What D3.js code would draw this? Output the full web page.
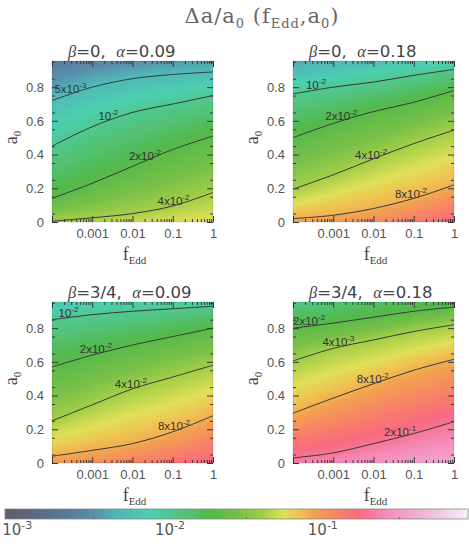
<!DOCTYPE html>
<html>
<head>
<meta charset="utf-8">
<script src="https://cdn.jsdelivr.net/npm/d3@7"></script>
<style>
  body { margin: 0; background: #fff; }
  svg { display: block; }
</style>
</head>
<body>
<svg width="469" height="545"></svg>
<script>
const F_COLS = [-4, -3, -2, -1, 0];

// beta=0, alpha=0.09
const p1Levels = [5e-3, 1e-2, 2e-2, 4e-2];
const p1Lines = [
  [0.72, 0.80, 0.85, 0.875, 0.89],
  [0.45, 0.565, 0.65, 0.70, 0.75],
  [0.14, 0.23, 0.33, 0.43, 0.51],
  [0.005, 0.025, 0.05, 0.095, 0.175]
];
const p1Top = [0.0022, 0.0026, 0.003, 0.0034, 0.0038];
const p1Bottom = [0.041, 0.045, 0.05, 0.055, 0.058];
const p1LabelAt = [-3.54, -2.60, -1.69, -0.98];
const p1Labels = [['5x10', '-3'], ['10', '-2'], ['2x10', '-2'], ['4x10', '-2']];

// beta=0, alpha=0.18
const p2Levels = [1e-2, 2e-2, 4e-2, 8e-2];
const p2Lines = [
  [0.76, 0.80, 0.83, 0.87, 0.905],
  [0.50, 0.585, 0.655, 0.71, 0.78],
  [0.195, 0.28, 0.375, 0.465, 0.545],
  [0.02, 0.04, 0.08, 0.14, 0.22]
];
const p2Top = [0.0038, 0.0045, 0.0053, 0.0062, 0.007];
const p2Bottom = [0.085, 0.095, 0.11, 0.14, 0.18];
const p2LabelAt = [-3.43, -2.80, -2.06, -1.07];
const p2Labels = [['10', '-2'], ['2x10', '-2'], ['4x10', '-2'], ['8x10', '-2']];

// beta=3/4, alpha=0.09
const p3Levels = [1e-2, 2e-2, 4e-2, 8e-2];
const p3Lines = [
  [0.85, 0.88, 0.90, 0.915, 0.93],
  [0.57, 0.64, 0.70, 0.75, 0.80],
  [0.25, 0.345, 0.44, 0.51, 0.58],
  [0.04, 0.075, 0.115, 0.185, 0.28]
];
const p3Top = [0.0058, 0.0066, 0.0074, 0.0082, 0.0088];
const p3Bottom = [0.095, 0.11, 0.13, 0.155, 0.18];
const p3LabelAt = [-3.59, -2.91, -2.04, -0.97];
const p3Labels = [['10', '-2'], ['2x10', '-2'], ['4x10', '-2'], ['8x10', '-2']];

// beta=3/4, alpha=0.18
const p4Levels = [2e-2, 4e-2, 8e-2, 2e-1];
const p4Lines = [
  [0.80, 0.83, 0.865, 0.90, 0.925],
  [0.605, 0.68, 0.73, 0.78, 0.82],
  [0.295, 0.385, 0.47, 0.55, 0.615],
  [0.03, 0.06, 0.115, 0.175, 0.245]
];
const p4Top = [0.011, 0.012, 0.014, 0.016, 0.018];
const p4Bottom = [0.23, 0.26, 0.30, 0.34, 0.38];
const p4LabelAt = [-3.6, -2.87, -2.02, -1.34];
const p4Labels = [['2x10', '-2'], ['4x10', '-3'], ['8x10', '-2'], ['2x10', '-1']];

const betas = ['0', '0', '3/4', '3/4'];
const alphas = ['0.09', '0.18', '0.09', '0.18'];

const xMajor = [1e-4, 1e-3, 1e-2, 1e-1, 1];
const yMajor = [0, 0.2, 0.4, 0.6, 0.8];
const cbTicks = [1e-3, 1e-2, 1e-1];

// colour map (log10 value -> colour)
const cmapLog = [-3.08, -2.78, -2.52, -2.33, -2.13, -1.90, -1.74, -1.54, -1.38, -1.25, -1.15, -1.05, -0.89, -0.76, -0.59, -0.43, -0.24, -0.05];
const cmapColors = ['#5c5f66', '#5a6f8e', '#5a8aaa', '#50b8b8', '#4ccfb0', '#52c278', '#52b94a', '#78c048', '#a8d048', '#e0e058',
  '#f0c050', '#f2a050', '#f88068', '#f86a80', '#f58ab8', '#f0a8d0', '#f0c8e0', '#f8f2f8'];

const panels = [
  {x0: 52, y0: 61, levels: p1Levels, lines: p1Lines, top: p1Top, bottom: p1Bottom, labelAt: p1LabelAt, labels: p1Labels},
  {x0: 293, y0: 61, levels: p2Levels, lines: p2Lines, top: p2Top, bottom: p2Bottom, labelAt: p2LabelAt, labels: p2Labels},
  {x0: 52, y0: 302, levels: p3Levels, lines: p3Lines, top: p3Top, bottom: p3Bottom, labelAt: p3LabelAt, labels: p3Labels},
  {x0: 293, y0: 302, levels: p4Levels, lines: p4Lines, top: p4Top, bottom: p4Bottom, labelAt: p4LabelAt, labels: p4Labels}
];

const PW = 161, PH = 161, A_MAX = 0.955;
const SANS = "'Liberation Sans', Arial, sans-serif";
const SERIF = "'Liberation Serif', 'DejaVu Serif', serif";

const svg = d3.select('svg');
const cmap = d3.scaleLinear().domain(cmapLog).range(cmapColors).clamp(true);

const x = d3.scaleLog().domain([1e-4, 1]).range([0, PW]);
const y = d3.scaleLinear().domain([0, A_MAX]).range([PH, 0]);

const xMinor = [];
[-4, -3, -2, -1].forEach(e => d3.range(2, 10).forEach(m => xMinor.push(m * Math.pow(10, e))));
const yMinor = d3.range(0.05, 0.951, 0.1);

// main title
const title = svg.append('text')
  .attr('x', 262).attr('y', 23)
  .attr('text-anchor', 'middle')
  .attr('font-family', "'DejaVu Serif', serif").attr('font-size', 21)
  .attr('letter-spacing', 1).attr('fill', '#666');
title.append('tspan').text('\u0394a/a');
title.append('tspan').attr('font-size', 13).attr('dy', 5).text('0');
title.append('tspan').attr('dy', -5).text('\u00A0(f');
title.append('tspan').attr('font-size', 13).attr('dy', 5).text('Edd');
title.append('tspan').attr('dy', -5).text(',a');
title.append('tspan').attr('font-size', 13).attr('dy', 5).text('0');
title.append('tspan').attr('dy', -5).text(')');

const defs = svg.append('defs');

function drawField(g, p) {
  const canvas = document.createElement('canvas');
  canvas.width = PW; canvas.height = PH;
  const ctx = canvas.getContext('2d');
  const img = ctx.createImageData(PW, PH);
  const lineAt = p.lines.map(l => d3.scaleLinear().domain(F_COLS).range(l));
  const topAt = d3.scaleLinear().domain(F_COLS).range(p.top.map(Math.log10));
  const botAt = d3.scaleLinear().domain(F_COLS).range(p.bottom.map(Math.log10));
  const levLog = p.levels.map(Math.log10);
  for (let i = 0; i < PW; i++) {
    const lf = Math.log10(x.invert(i + 0.5));
    const pos = [0].concat(lineAt.map(s => s(lf)).reverse(), [A_MAX]);
    const val = [botAt(lf)].concat(levLog.slice().reverse(), [topAt(lf)]);
    const prof = d3.scaleLinear().domain(pos).range(val);
    for (let j = 0; j < PH; j++) {
      const c = d3.rgb(cmap(prof(y.invert(j + 0.5))));
      const k = (j * PW + i) * 4;
      img.data[k] = c.r; img.data[k + 1] = c.g; img.data[k + 2] = c.b; img.data[k + 3] = 255;
    }
  }
  ctx.putImageData(img, 0, 0);
  g.append('image').attr('href', canvas.toDataURL()).attr('width', PW).attr('height', PH);
}

function styleAxis(sel) {
  sel.select('.domain').remove();
  sel.selectAll('line').attr('stroke', '#3a3a3a').attr('stroke-width', 1);
  sel.selectAll('text').attr('font-family', SANS).attr('font-size', 13).attr('fill', '#555');
}

panels.forEach((p, idx) => {
  const g = svg.append('g').attr('transform', `translate(${p.x0},${p.y0})`);
  const clipId = 'clip' + idx;
  defs.append('clipPath').attr('id', clipId)
    .append('rect').attr('width', PW).attr('height', PH);

  drawField(g, p);

  const inner = g.append('g').attr('clip-path', `url(#${clipId})`);
  const line = d3.line()
    .x((d, i) => x(Math.pow(10, F_COLS[i])))
    .y(d => y(d))
    .curve(d3.curveCatmullRom);
  inner.selectAll('path.contour')
    .data(p.lines)
    .join('path')
    .attr('class', 'contour')
    .attr('d', line)
    .attr('fill', 'none')
    .attr('stroke', '#383838')
    .attr('stroke-width', 1);

  // contour labels
  p.labels.forEach((lab, k) => {
    const a = d3.scaleLinear().domain(F_COLS).range(p.lines[k])(p.labelAt[k]);
    const t = inner.append('text')
      .attr('x', x(Math.pow(10, p.labelAt[k])))
      .attr('y', y(a) - 1)
      .attr('text-anchor', 'middle')
      .attr('font-family', SANS).attr('font-size', 11.5).attr('fill', '#333');
    t.append('tspan').text(lab[0]);
    t.append('tspan').attr('font-size', 8).attr('dy', -5).text(lab[1]);
  });

  // ticks on all four sides, pointing inward
  g.append('g').attr('transform', `translate(0,${PH})`)
    .call(d3.axisBottom(x).tickValues(xMajor).tickSize(-6).tickPadding(7)
      .tickFormat(d => d < 1e-3 ? '' : d3.format('~g')(d)))
    .call(styleAxis);
  g.append('g').attr('transform', `translate(0,${PH})`)
    .call(d3.axisBottom(x).tickValues(xMinor).tickSize(-3).tickFormat(''))
    .call(styleAxis);
  g.append('g')
    .call(d3.axisTop(x).tickValues(xMajor).tickSize(-6).tickFormat(''))
    .call(styleAxis);
  g.append('g')
    .call(d3.axisTop(x).tickValues(xMinor).tickSize(-3).tickFormat(''))
    .call(styleAxis);
  g.append('g')
    .call(d3.axisLeft(y).tickValues(yMajor).tickSize(-6).tickPadding(8)
      .tickFormat(d => d === 0 ? '0' : d3.format('.1f')(d)))
    .call(styleAxis);
  g.append('g')
    .call(d3.axisLeft(y).tickValues(yMinor).tickSize(-3).tickFormat(''))
    .call(styleAxis);
  g.append('g').attr('transform', `translate(${PW},0)`)
    .call(d3.axisRight(y).tickValues(yMajor).tickSize(-6).tickFormat(''))
    .call(styleAxis);
  g.append('g').attr('transform', `translate(${PW},0)`)
    .call(d3.axisRight(y).tickValues(yMinor).tickSize(-3).tickFormat(''))
    .call(styleAxis);

  g.append('rect').attr('width', PW).attr('height', PH)
    .attr('fill', 'none').attr('stroke', 'rgba(0,0,0,0.2)').attr('stroke-width', 0.6);

  // panel title
  const pt = g.append('text').attr('x', 16).attr('y', -4)
    .attr('font-family', "'DejaVu Sans', sans-serif").attr('font-size', 16.5).attr('fill', '#444');
  pt.append('tspan').attr('font-family', SERIF).attr('font-style', 'italic').text('\u03B2');
  pt.append('tspan').text('=' + betas[idx] + ',\u00A0\u00A0');
  pt.append('tspan').attr('font-family', SERIF).attr('font-style', 'italic').text('\u03B1');
  pt.append('tspan').text('=' + alphas[idx]);

  // axis labels
  const xl = g.append('text').attr('x', PW / 2 + 2).attr('y', PH + 38)
    .attr('text-anchor', 'middle')
    .attr('font-family', SERIF).attr('font-size', 18).attr('fill', '#444');
  xl.append('tspan').text('f');
  xl.append('tspan').attr('font-size', 11).attr('dy', 4).text('Edd');

  const yl = g.append('text')
    .attr('transform', `translate(-35,${PH / 2 - 4}) rotate(-90)`)
    .attr('text-anchor', 'middle')
    .attr('font-family', SERIF).attr('font-size', 18).attr('fill', '#444');
  yl.append('tspan').text('a');
  yl.append('tspan').attr('font-size', 11).attr('dy', 4).text('0');
});

// colour bar
const cb = d3.scaleLog().domain([Math.pow(10, -3.08), Math.pow(10, -0.05)]).range([5, 468]);
const grad = defs.append('linearGradient').attr('id', 'cbgrad')
  .attr('x1', 0).attr('x2', 1).attr('y1', 0).attr('y2', 0);
grad.selectAll('stop')
  .data(cmapLog)
  .join('stop')
  .attr('offset', d => (cb(Math.pow(10, d)) - 5) / 463)
  .attr('stop-color', d => cmap(d));
svg.append('rect').attr('x', 5).attr('y', 509).attr('width', 463).attr('height', 10)
  .attr('fill', 'url(#cbgrad)').attr('stroke', '#888').attr('stroke-width', 0.8);
svg.selectAll('line.cbtick')
  .data([-2.5, -1.5, -0.5])
  .join('line')
  .attr('class', 'cbtick')
  .attr('x1', d => cb(Math.pow(10, d))).attr('x2', d => cb(Math.pow(10, d)))
  .attr('y1', 517).attr('y2', 519)
  .attr('stroke', '#666');
cbTicks.forEach(v => {
  const t = svg.append('text')
    .attr('x', cb(v)).attr('y', 535)
    .attr('text-anchor', 'middle')
    .attr('font-family', "'DejaVu Sans', sans-serif").attr('font-size', 15).attr('fill', '#555');
  t.append('tspan').text('10');
  t.append('tspan').attr('font-size', 11).attr('dy', -6).text(String(Math.round(Math.log10(v))));
});
</script>
</body>
</html>
